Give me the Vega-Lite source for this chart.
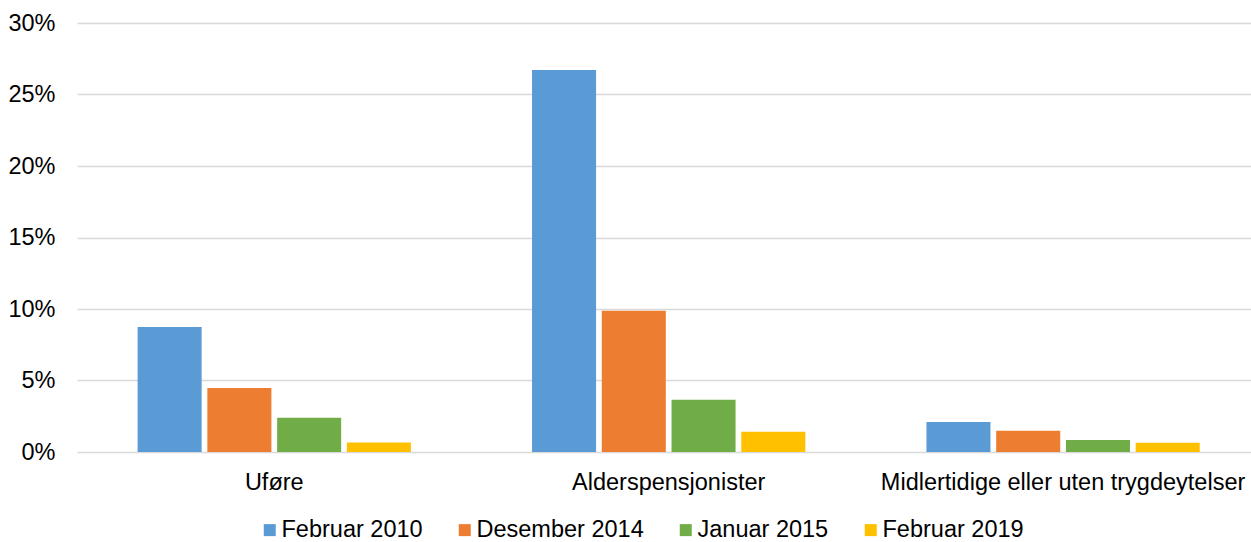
{
  "$schema": "https://vega.github.io/schema/vega-lite/v6.json",
  "autosize": {"type": "none"},
  "padding": {"left": 77, "top": 23, "right": 0, "bottom": 90},
  "width": 1174,
  "height": 429,
  "background": "white",
  "data": {
    "values": [
      {"kategori": "Uføre", "periode": "Februar 2010", "andel": 0.0874},
      {"kategori": "Uføre", "periode": "Desember 2014", "andel": 0.0447},
      {"kategori": "Uføre", "periode": "Januar 2015", "andel": 0.0240},
      {"kategori": "Uføre", "periode": "Februar 2019", "andel": 0.0067},
      {"kategori": "Alderspensjonister", "periode": "Februar 2010", "andel": 0.2672},
      {"kategori": "Alderspensjonister", "periode": "Desember 2014", "andel": 0.0987},
      {"kategori": "Alderspensjonister", "periode": "Januar 2015", "andel": 0.0365},
      {"kategori": "Alderspensjonister", "periode": "Februar 2019", "andel": 0.0142},
      {"kategori": "Midlertidige eller uten trygdeytelser", "periode": "Februar 2010", "andel": 0.0210},
      {"kategori": "Midlertidige eller uten trygdeytelser", "periode": "Desember 2014", "andel": 0.0149},
      {"kategori": "Midlertidige eller uten trygdeytelser", "periode": "Januar 2015", "andel": 0.0084},
      {"kategori": "Midlertidige eller uten trygdeytelser", "periode": "Februar 2019", "andel": 0.0065}
    ]
  },
  "mark": {"type": "bar"},
  "encoding": {
    "x": {
      "field": "kategori",
      "type": "nominal",
      "sort": ["Uføre", "Alderspensjonister", "Midlertidige eller uten trygdeytelser"],
      "scale": {"paddingInner": 0.2926, "paddingOuter": 0.1346, "align": 0.544},
      "axis": {
        "title": null,
        "labelAngle": 0,
        "domain": false,
        "ticks": false,
        "tickSize": 0,
        "labelPadding": 18,
        "labelFontSize": 23.5,
        "labelFont": "Liberation Sans",
        "labelColor": "#000000",
        "labelLimit": 1000,
        "labelOverlap": false,
        "grid": false
      }
    },
    "xOffset": {
      "field": "periode",
      "type": "nominal",
      "sort": ["Februar 2010", "Desember 2014", "Januar 2015", "Februar 2019"],
      "scale": {"paddingInner": 0.082, "paddingOuter": 0.041}
    },
    "y": {
      "field": "andel",
      "type": "quantitative",
      "scale": {"domain": [0, 0.3], "nice": false},
      "axis": {
        "title": null,
        "format": ".0%",
        "values": [0, 0.05, 0.1, 0.15, 0.2, 0.25, 0.3],
        "domain": false,
        "ticks": false,
        "tickSize": 0,
        "labelPadding": 22,
        "labelFontSize": 23.5,
        "labelFont": "Liberation Sans",
        "labelColor": "#000000",
        "grid": true,
        "gridColor": "#D9D9D9",
        "gridWidth": 1.5
      }
    },
    "color": {
      "field": "periode",
      "type": "nominal",
      "sort": ["Februar 2010", "Desember 2014", "Januar 2015", "Februar 2019"],
      "scale": {
        "domain": ["Februar 2010", "Desember 2014", "Januar 2015", "Februar 2019"],
        "range": ["#5B9BD5", "#ED7D31", "#70AD47", "#FFC000"]
      },
      "legend": {
        "title": null,
        "orient": "none",
        "legendX": 181,
        "legendY": 495,
        "direction": "horizontal",
        "symbolType": "square",
        "symbolSize": 144,
        "symbolStrokeWidth": 0,
        "symbolOpacity": 1,
        "labelFontSize": 23.5,
        "labelFont": "Liberation Sans",
        "labelColor": "#000000",
        "labelLimit": 400,
        "labelOffset": 0,
        "columnPadding": 30,
        "padding": 0
      }
    }
  },
  "config": {
    "view": {"stroke": null},
    "font": "Liberation Sans"
  }
}
